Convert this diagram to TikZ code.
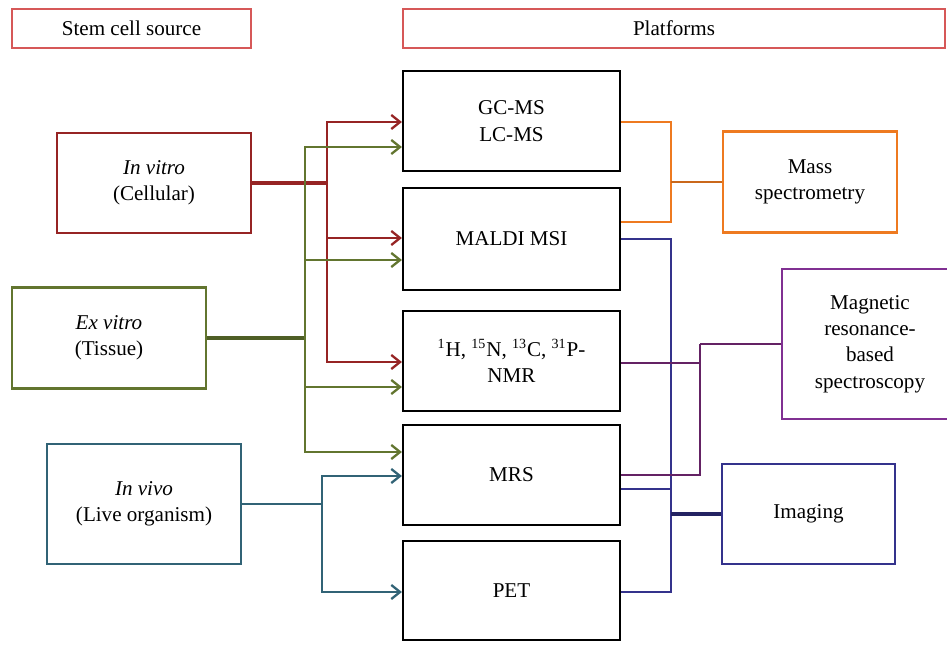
\documentclass[tikz,border=0pt]{standalone}
\usepackage{fontspec}
\setmainfont{Liberation Serif}
\usetikzlibrary{arrows.meta}
\definecolor{hdrred}{RGB}{214,88,88}
\definecolor{dkred}{RGB}{150,36,36}
\definecolor{olive}{RGB}{98,117,47}
\definecolor{teal}{RGB}{49,99,118}
\definecolor{orng}{RGB}{238,122,32}
\definecolor{navy}{RGB}{52,50,140}
\definecolor{purp}{RGB}{128,48,146}
\definecolor{dpurp}{RGB}{100,34,100}
\tikzset{
  box/.style={draw, line width=1.3pt, inner sep=0pt, align=center, fill=white,
    font=\fontsize{12}{15}\selectfont},
  conn/.style={line width=1.3pt},
  arr/.style={-{Straight Barb[length=5pt,width=8pt,line width=1.3pt]}},
}
\begin{document}
\begin{tikzpicture}[x=0.02cm,y=-0.02cm]
\clip (0,0) rectangle (947,645);
\useasboundingbox (0,0) rectangle (947,645);
% headers
\node[box, draw=hdrred, minimum width=4.78cm, minimum height=0.78cm] (stem) at (131.5,28.5) {Stem cell source};
\node[box, draw=hdrred, minimum width=10.84cm, minimum height=0.78cm] (plat) at (674,28.5) {Platforms};
% platform boxes
\node[box, draw=black, minimum width=4.34cm, minimum height=2.0cm] (gc) at (511.5,121) {GC-MS\\LC-MS};
\node[box, draw=black, minimum width=4.34cm, minimum height=2.04cm] (maldi) at (511.5,239) {MALDI MSI};
\node[box, draw=black, minimum width=4.34cm, minimum height=2.0cm] (nmr) at (511.5,361) {\textsuperscript{1}H, \textsuperscript{15}N, \textsuperscript{13}C, \textsuperscript{31}P-\\NMR};
\node[box, draw=black, minimum width=4.34cm, minimum height=2.0cm] (mrs) at (511.5,475) {MRS};
\node[box, draw=black, minimum width=4.34cm, minimum height=1.98cm] (pet) at (511.5,590.5) {PET};
% sources
\node[box, draw=dkred, minimum width=3.88cm, minimum height=2.0cm] (vitro) at (154,183) {\textit{In vitro}\\(Cellular)};
\node[box, draw=olive, minimum width=3.88cm, minimum height=2.02cm] (ex) at (109,338) {\textit{Ex vitro}\\(Tissue)};
\node[box, draw=teal, minimum width=3.88cm, minimum height=2.4cm] (vivo) at (144,504) {\textit{In vivo}\\(Live organism)};
% categories
\node[box, draw=orng, minimum width=3.48cm, minimum height=2.02cm] (mass) at (810,182) {Mass\\spectrometry};
\node[box, draw=purp, minimum width=3.52cm, minimum height=3.0cm] (mag) at (870,344) {Magnetic\\resonance-\\based\\spectroscopy};
\node[box, draw=navy, minimum width=3.46cm, minimum height=2.0cm] (img) at (808.5,514) {Imaging};
% junction points
\coordinate (jr) at (vitro.east -| 327,0);
\coordinate (jg) at (ex.east -| 305,0);
\coordinate (jt) at (vivo.east -| 322,0);
\coordinate (jo) at (mass.west -| 671,0);
\coordinate (jn) at (img.west -| 671,0);
\coordinate (jp) at (mag.west -| 700,0);
% red connectors
\draw[conn, dkred, line width=2pt] (vitro.east) -- (jr);
\draw[conn, dkred, arr] (jr) |- (gc.west |- 0,122);
\draw[conn, dkred, arr] (jr) |- (maldi.west |- 0,238);
\draw[conn, dkred, arr] (jr) |- (nmr.west |- 0,362);
% green connectors
\draw[conn, olive!80!black, line width=2.5pt] (ex.east) -- (jg);
\draw[conn, olive, arr] (jg) |- (gc.west |- 0,147);
\draw[conn, olive, arr] (jg) |- (maldi.west |- 0,260);
\draw[conn, olive, arr] (jg) |- (nmr.west |- 0,387);
\draw[conn, olive, arr] (jg) |- (mrs.west |- 0,452);
% teal connectors
\draw[conn, teal, line width=1.6pt] (vivo.east) -- (jt);
\draw[conn, teal, arr] (jt) |- (mrs.west |- 0,476);
\draw[conn, teal, arr] (jt) |- (pet.west |- 0,592);
% orange connectors
\draw[conn, orng] (gc.east |- 0,122) -| (jo);
\draw[conn, orng] (maldi.east |- 0,222) -| (jo);
\draw[conn, orng!85!black, line width=1.6pt] (jo) -- (mass.west);
% navy connectors
\draw[conn, navy] (maldi.east |- 0,239) -| (jn);
\draw[conn, navy] (pet.east |- 0,592) -| (jn);
\draw[conn, navy] (mrs.east |- 0,489) -| (jn);
\draw[conn, navy!70!black, line width=2.3pt] (jn) -- (img.west);
% purple connectors
\draw[conn, dpurp] (nmr.east |- 0,363) -| (jp);
\draw[conn, dpurp] (mrs.east |- 0,475) -| (jp);
\draw[conn, dpurp, line width=1.6pt] (jp) -- (mag.west);
\end{tikzpicture}
\end{document}
